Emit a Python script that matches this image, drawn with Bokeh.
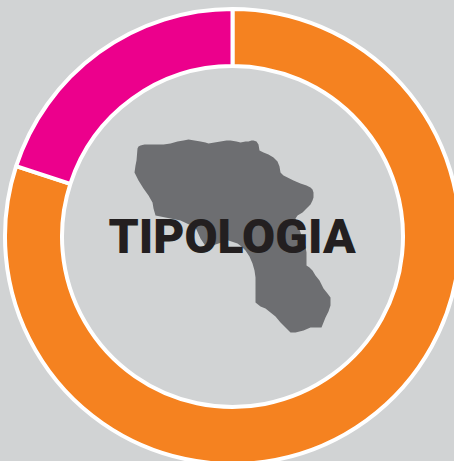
import numpy as np
from bokeh.plotting import figure
from bokeh.models import ColumnDataSource, Range1d
from bokeh.core.properties import value
from bokeh.embed import file_html
from bokeh.resources import INLINE

categories = ["A", "B"]
shares = [80, 20]
colors = ["#f58220", "#ec008c"]
title = "TIPOLOGIA"
# silhouette outline (px, px from the top-left)
shape_x = [137, 138, 140, 144, 150, 157, 163, 170, 177, 183, 188, 194, 200, 205, 208, 214, 220, 226, 230, 236, 240, 245, 248, 251, 253, 256, 258, 259, 263, 268, 273, 277, 279, 280, 283, 287, 293, 300, 306, 310, 312, 313, 313, 312, 310, 307, 302, 297, 295, 298, 302, 305, 306, 306, 306, 309, 312, 315, 319, 321, 323, 327, 330, 330, 328, 325, 323, 321, 316, 310, 303, 295, 290, 288, 284, 280, 275, 270, 265, 260, 255, 255, 255, 254, 252, 249, 245, 241, 237, 228, 218, 206, 200, 195, 180, 170, 155, 153, 152, 148, 143, 138, 134, 135, 136]
shape_y = [148, 146, 145, 144, 144, 144, 144, 143, 141, 140, 139, 140, 141, 142, 143, 142, 141, 140, 140, 141, 142, 141, 141, 140, 140, 141, 144, 150, 152, 154, 157, 161, 166, 172, 175, 177, 180, 183, 185, 187, 189, 192, 197, 200, 204, 207, 212, 215, 218, 226, 238, 246, 252, 258, 265, 267, 270, 275, 280, 284, 288, 293, 297, 305, 311, 317, 322, 327, 327, 327, 330, 332, 332, 330, 326, 322, 316, 312, 308, 306, 302, 290, 277, 270, 263, 256, 250, 246, 243, 240, 243, 247, 238, 227, 220, 218, 215, 208, 202, 195, 188, 180, 172, 165, 160]

W, H = 454, 461
cx, cy = 232.0, H - 236.0

p = figure(width=W, height=H, output_backend="svg", toolbar_location=None,
           x_range=Range1d(0, W), y_range=Range1d(0, H),
           min_border=0, outline_line_color=None,
           background_fill_color="#d1d3d4", border_fill_color="#d1d3d4")
p.axis.visible = False
p.grid.visible = False
p.styles = {"position": "fixed", "left": "0px", "top": "0px", "background-color": "#d1d3d4"}

fr = np.array(shares) / sum(shares)
ends = np.pi / 2 - np.cumsum(fr) * 2 * np.pi
starts = ends + fr * 2 * np.pi
src = ColumnDataSource(dict(cat=categories, start=ends, end=starts, color=colors))
p.annular_wedge(x=cx, y=cy, inner_radius=170.5, outer_radius=227.5, start_angle="start", end_angle="end",
                fill_color="color", line_color="white", line_width=4, source=src)

p.patch(shape_x, [H - v for v in shape_y], fill_color="#6d6e71", line_color=None)
p.text(x=[cx - 0.5], y=[H - 236], text=[title], text_align="center", text_baseline="middle",
       text_font=value("Roboto Black"), text_font_style="normal", text_font_size="48px",
       text_color="#231f20")

open("out.html", "w").write(file_html(p, INLINE))
